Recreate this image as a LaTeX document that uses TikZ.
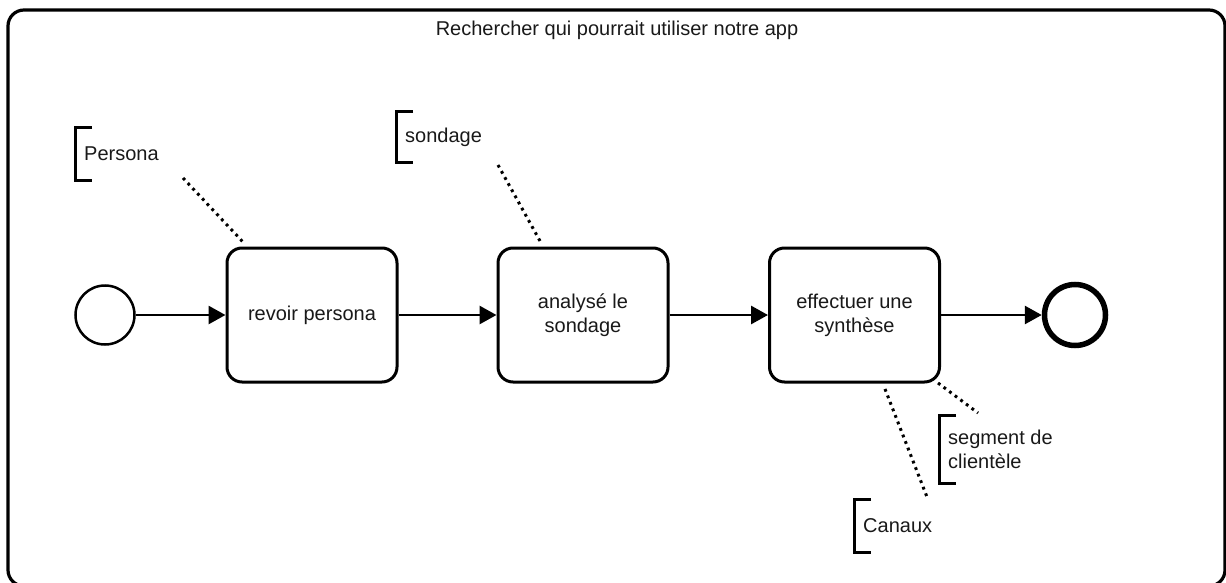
\documentclass[tikz,border=0pt]{standalone}
\usepackage{fontspec}
\setmainfont{Liberation Sans}
\usetikzlibrary{arrows.meta}
\tikzset{
  every node/.style={font=\fontsize{20}{24}\selectfont, text=black!90},
  pool/.style={draw, line width=3.2pt, rounded corners=16pt, minimum width=1217pt, minimum height=576pt, inner sep=0pt},
  task/.style={draw, line width=3pt, rounded corners=15pt, minimum width=170pt, minimum height=134pt, align=center, fill=white},
  startev/.style={draw, circle, line width=2.5pt, minimum size=59pt, inner sep=0pt, fill=white},
  endev/.style={draw, circle, line width=5.5pt, minimum size=61pt, inner sep=0pt, fill=white},
  flow/.style={line width=2.8pt, -{Triangle[length=17pt,width=18pt]}},
  annot/.style={anchor=west, inner xsep=9pt, inner ysep=0pt, align=left},
  bracket/.style={line width=3pt},
  assoc/.style={line width=3pt, dash pattern=on 2.8pt off 4.2pt}
}
\begin{document}
\begin{tikzpicture}[x=1pt, y=-1pt]
  \useasboundingbox (0,0) rectangle (1226,583);

  % pool frame and its title
  \node[pool] (pool) at (616.5,298) {};
  \node (title) at (617,30) {Rechercher qui pourrait utiliser notre app};

  % events and tasks
  \node[startev] (start) at (105,315) {};
  \node[task] (t1) at (312,315) {revoir persona};
  \node[task] (t2) at (583,315) {analysé le\\sondage};
  \node[task] (t3) at (854.5,315) {effectuer une\\synthèse};
  \node[endev] (end) at (1075,315) {};

  % sequence flows
  \draw[flow] (start) -- (t1);
  \draw[flow] (t1) -- (t2);
  \draw[flow] (t2) -- (t3);
  \draw[flow] (t3) -- (end);

  % text annotations
  \node[annot, minimum height=52pt] (persona) at (75,154) {Persona};
  \node[annot, minimum height=50pt] (sondage) at (396,137) {sondage};
  \node[annot, minimum height=67pt] (segment) at (939,449.5) {segment de\\clientèle};
  \node[annot, minimum height=52pt] (canaux) at (854,526) {Canaux};

  \foreach \a in {persona,sondage,segment,canaux}{
    \draw[bracket] ([xshift=17pt]\a.north west) -- (\a.north west)
      -- (\a.south west) -- ([xshift=17pt]\a.south west);
  }

  % association anchors
  \coordinate (pA) at (183,178);  \coordinate (pB) at (243,242);
  \coordinate (sA) at (498,165);  \coordinate (sB) at (540,241);
  \coordinate (gA) at (978,413);  \coordinate (gB) at (938,383);
  \coordinate (cA) at (927,497);  \coordinate (cB) at (885,389);

  % associations
  \draw[assoc] (pA) -- (pB);
  \draw[assoc] (sA) -- (sB);
  \draw[assoc] (gB) -- (gA);
  \draw[assoc] (cB) -- (cA);
\end{tikzpicture}
\end{document}
